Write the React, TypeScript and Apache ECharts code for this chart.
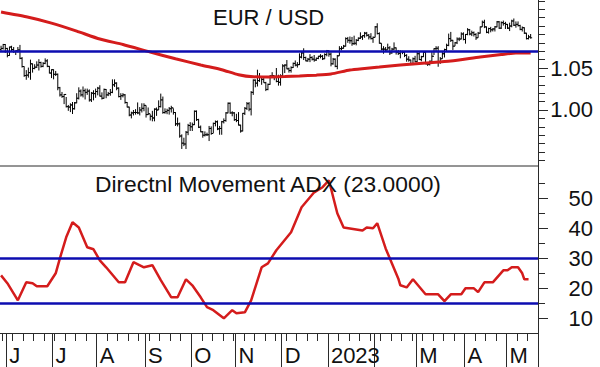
import React, { useEffect, useRef } from "react";
import * as echarts from "echarts";

// ---- categories: trading days (weekdays) starting 2022-05-27 ----
const START_DATE = "2022-05-27";
const SLOT_COUNT = 256;

// month tick labels (Feb 2023 label is hidden in the original)
const monthTickLabels: [string, string][] = [
  ["2022-06", "J"], ["2022-07", "J"], ["2022-08", "A"], ["2022-09", "S"],
  ["2022-10", "O"], ["2022-11", "N"], ["2022-12", "D"], ["2023-01", "2023"],
  ["2023-02", ""], ["2023-03", "M"], ["2023-04", "A"], ["2023-05", "M"],
];

// ---- EUR/USD daily bars ----
const firstOpen = 1.072;
const closes = [
  1.0733,1.0780,1.0733,1.0649,1.0750,1.0720,1.0695,1.0705,1.0715,1.0615,
  1.0518,1.0410,1.0415,1.0445,1.0550,1.0495,1.0510,1.0535,1.0565,1.0520,
  1.0555,1.0585,1.0520,1.0440,1.0480,1.0425,1.0425,1.0265,1.0180,1.0160,
  1.0185,1.0040,1.0035,1.0060,1.0015,1.0085,1.0140,1.0225,1.0180,1.0230,
  1.0210,1.0225,1.0120,1.0200,1.0195,1.0220,1.0260,1.0165,1.0140,1.0245,
  1.0180,1.0195,1.0210,1.0300,1.0320,1.0260,1.0160,1.0170,1.0180,1.0090,
  1.0035,0.9940,0.9965,0.9970,0.9970,0.9965,1.0000,1.0020,1.0055,0.9945,
  0.9955,0.9925,0.9905,1.0010,1.0000,1.0040,1.0120,0.9970,0.9980,0.9995,
  1.0015,1.0025,0.9970,0.9835,0.9835,0.9690,0.9605,0.9595,0.9735,0.9815,
  0.9800,0.9825,0.9985,0.9885,0.9795,0.9740,0.9700,0.9705,0.9705,0.9780,
  0.9720,0.9840,0.9860,0.9775,0.9780,0.9860,0.9875,0.9965,1.0080,0.9965,
  0.9965,0.9885,0.9875,0.9820,0.9750,0.9960,1.0020,1.0075,1.0010,1.0210,
  1.0355,1.0320,1.0350,1.0395,1.0365,1.0325,1.0245,1.0305,1.0405,1.0410,
  1.0400,1.0340,1.0330,1.0405,1.0525,1.0535,1.0490,1.0470,1.0505,1.0555,
  1.0535,1.0540,1.0630,1.0680,1.0625,1.0585,1.0605,1.0625,1.0605,1.0595,
  1.0615,1.0640,1.0640,1.0610,1.0660,1.0705,1.0665,1.0550,1.0605,1.0520,
  1.0645,1.0730,1.0735,1.0760,1.0850,1.0830,1.0825,1.0790,1.0795,1.0830,
  1.0855,1.0870,1.0885,1.0915,1.0890,1.0870,1.0850,1.0865,1.0990,1.0910,
  1.0795,1.0725,1.0725,1.0715,1.0740,1.0680,1.0725,1.0740,1.0690,1.0675,
  1.0695,1.0685,1.0650,1.0605,1.0595,1.0545,1.0610,1.0575,1.0670,1.0600,
  1.0635,1.0685,1.0550,1.0545,1.0580,1.0640,1.0730,1.0735,1.0575,1.0610,
  1.0670,1.0720,1.0770,1.0850,1.0830,1.0760,1.0800,1.0845,1.0845,1.0905,
  1.0840,1.0900,1.0955,1.0905,1.0920,1.0900,1.0860,1.0915,1.0990,1.1045,
  1.0990,1.0925,1.0970,1.0955,1.0965,1.0990,1.1050,1.0975,1.1040,1.1030,
  1.1020,1.0975,1.1000,1.1060,1.1010,1.1020,1.1005,1.0960,1.0980,1.0915,
  1.0850,1.0870,1.0860,
];
const highs = [
  1.0765,1.0787,1.0786,1.0740,1.0755,1.0765,1.0750,1.0710,1.0750,1.0775,
  1.0630,1.0520,1.0475,1.0505,1.0600,1.0555,1.0545,1.0580,1.0605,1.0575,
  1.0570,1.0615,1.0605,1.0525,1.0485,1.0485,1.0465,1.0435,1.0275,1.0215,
  1.0190,1.0155,1.0060,1.0080,1.0095,1.0095,1.0200,1.0270,1.0245,1.0280,
  1.0255,1.0255,1.0245,1.0215,1.0235,1.0255,1.0275,1.0295,1.0210,1.0255,
  1.0250,1.0215,1.0250,1.0365,1.0365,1.0330,1.0270,1.0200,1.0200,1.0190,
  1.0095,1.0040,0.9980,1.0000,1.0010,1.0090,1.0035,1.0080,1.0080,1.0055,
  1.0030,0.9950,0.9990,1.0020,1.0030,1.0115,1.0195,1.0160,1.0020,1.0015,
  1.0035,1.0050,1.0020,0.9975,0.9910,0.9850,0.9710,0.9670,0.9750,0.9835,
  0.9855,0.9850,0.9995,0.9995,0.9895,0.9815,0.9750,0.9745,0.9730,0.9810,
  0.9805,0.9850,0.9875,0.9875,0.9810,0.9870,0.9900,0.9975,1.0090,1.0090,
  0.9985,0.9975,0.9955,0.9975,0.9825,0.9965,1.0035,1.0095,1.0095,1.0225,
  1.0365,1.0365,1.0480,1.0440,1.0400,1.0380,1.0335,1.0315,1.0415,1.0450,
  1.0410,1.0500,1.0420,1.0425,1.0545,1.0545,1.0595,1.0505,1.0520,1.0565,
  1.0590,1.0570,1.0675,1.0695,1.0735,1.0635,1.0620,1.0665,1.0640,1.0655,
  1.0625,1.0645,1.0665,1.0655,1.0675,1.0715,1.0710,1.0685,1.0620,1.0615,
  1.0655,1.0760,1.0760,1.0775,1.0865,1.0870,1.0875,1.0870,1.0885,1.0845,
  1.0865,1.0925,1.0890,1.0930,1.0930,1.0905,1.0915,1.0875,1.1000,1.1033,
  1.0925,1.0795,1.0760,1.0750,1.0790,1.0760,1.0740,1.0805,1.0745,1.0715,
  1.0710,1.0705,1.0695,1.0665,1.0640,1.0600,1.0625,1.0645,1.0690,1.0690,
  1.0645,1.0695,1.0695,1.0565,1.0590,1.0700,1.0735,1.0760,1.0760,1.0630,
  1.0690,1.0730,1.0790,1.0910,1.0930,1.0835,1.0810,1.0865,1.0865,1.0925,
  1.0925,1.0905,1.0975,1.0965,1.0945,1.0935,1.0915,1.0930,1.0995,1.1065,
  1.1075,1.0995,1.0980,1.0990,1.0975,1.1000,1.1060,1.1060,1.1055,1.1065,
  1.1050,1.1025,1.1040,1.1075,1.1090,1.1055,1.1055,1.1015,1.0995,1.0985,
  1.0920,1.0895,1.0905,
];
const lows = [
  1.0705,1.0720,1.0680,1.0627,1.0645,1.0700,1.0680,1.0655,1.0685,1.0605,
  1.0505,1.0395,1.0360,1.0385,1.0360,1.0445,1.0485,1.0500,1.0470,1.0505,
  1.0510,1.0545,1.0510,1.0435,1.0380,1.0365,1.0405,1.0235,1.0160,1.0145,
  1.0070,1.0030,0.9990,0.9975,0.9952,1.0005,1.0080,1.0125,1.0160,1.0150,
  1.0125,1.0180,1.0100,1.0095,1.0115,1.0145,1.0175,1.0160,1.0125,1.0135,
  1.0140,1.0165,1.0170,1.0200,1.0275,1.0235,1.0150,1.0120,1.0150,1.0075,
  1.0030,0.9925,0.9900,0.9935,0.9945,0.9950,0.9935,0.9970,0.9985,0.9910,
  0.9940,0.9875,0.9865,0.9865,0.9930,1.0000,1.0030,0.9955,0.9955,0.9950,
  0.9945,0.9970,0.9945,0.9810,0.9805,0.9670,0.9536,0.9570,0.9535,0.9700,
  0.9750,0.9750,0.9820,0.9870,0.9785,0.9735,0.9670,0.9685,0.9690,0.9630,
  0.9705,0.9725,0.9805,0.9760,0.9705,0.9705,0.9840,0.9860,0.9960,0.9955,
  0.9925,0.9870,0.9855,0.9815,0.9730,0.9745,0.9940,1.0000,0.9985,0.9935,
  1.0180,1.0270,1.0280,1.0335,1.0300,1.0325,1.0225,1.0235,1.0300,1.0385,
  1.0355,1.0330,1.0290,1.0290,1.0390,1.0440,1.0485,1.0445,1.0445,1.0500,
  1.0520,1.0505,1.0535,1.0615,1.0595,1.0580,1.0575,1.0570,1.0590,1.0575,
  1.0585,1.0605,1.0615,1.0595,1.0605,1.0640,1.0635,1.0520,1.0540,1.0510,
  1.0485,1.0645,1.0710,1.0730,1.0755,1.0800,1.0790,1.0765,1.0775,1.0770,
  1.0820,1.0845,1.0835,1.0860,1.0875,1.0840,1.0840,1.0800,1.0865,1.0900,
  1.0790,1.0710,1.0670,1.0700,1.0715,1.0655,1.0670,1.0710,1.0660,1.0655,
  1.0615,1.0665,1.0630,1.0575,1.0575,1.0535,1.0535,1.0570,1.0570,1.0595,
  1.0580,1.0630,1.0545,1.0525,1.0530,1.0570,1.0655,1.0700,1.0515,1.0550,
  1.0610,1.0625,1.0700,1.0760,1.0810,1.0715,1.0760,1.0785,1.0820,1.0840,
  1.0830,1.0790,1.0890,1.0890,1.0880,1.0875,1.0835,1.0860,1.0910,1.0990,
  1.0975,1.0915,1.0910,1.0925,1.0935,1.0935,1.0985,1.0965,1.0965,1.1005,
  1.0965,1.0965,1.0940,1.0985,1.1000,1.0980,1.0995,1.0950,1.0935,1.0905,
  1.0840,1.0840,1.0850,
];

// long moving average (red), [trading-day index, value]
const maPoints: [number, number][] = [
  [0, 1.1167], [12, 1.111], [24, 1.1035], [36, 1.094], [47, 1.0845], [58, 1.078],
  [71, 1.069], [83, 1.061], [95, 1.0536], [105, 1.048], [113, 1.042], [120, 1.0395],
  [127, 1.0393], [135, 1.0398], [142, 1.0405], [150, 1.0415], [157, 1.0429],
  [166, 1.0476], [173, 1.0495], [180, 1.0512], [190, 1.0536], [202, 1.056],
  [214, 1.0583], [228, 1.0631], [238, 1.066], [245, 1.0679], [252, 1.068],
];
const priceLevel = 1.0725;

// ADX (23), [trading-day index, value]
const adxPoints: [number, number][] = [
  [0, 24.3], [3, 21.7], [8, 16], [12, 22], [15, 21.7], [17, 20.7], [22, 20.7],
  [26, 25], [28, 30], [31, 37], [34, 42], [37, 40.3], [41, 33.7], [44, 33],
  [47, 29.3], [50, 27], [56, 22], [59, 22], [63, 28.7], [68, 27], [72, 27.7],
  [76, 22.7], [81, 17], [84, 17], [88, 23], [91, 21], [95, 17], [98, 13.7],
  [101, 12.7], [106, 10], [110, 12.7], [112, 11.7], [116, 12], [119, 16],
  [124, 27], [127, 28.3], [131, 32.7], [138, 38.7], [143, 47], [149, 52],
  [153, 53.7], [156, 56], [160, 45], [163, 40.3], [172, 39.3], [174, 40.3],
  [177, 40], [179, 41.7], [183, 33.3], [186, 28.3], [189, 23.3], [190, 21],
  [193, 20.3], [196, 23], [202, 18], [208, 18], [211, 15.7], [214, 18],
  [219, 18], [221, 20], [225, 20], [227, 18.7], [230, 22], [234, 22],
  [239, 26], [241, 26], [243, 27], [246, 27], [248, 25], [249, 23], [251, 23],
];
const adxLevels = [30, 15];

// axis ticks / labels
const priceMinorTicks = [0.94,0.95,0.96,0.97,0.98,0.99,1.0,1.01,1.02,1.03,1.04,1.05,1.06,1.07,1.08,1.09,1.1,1.11,1.12,1.13];
const priceLabels = [1.0, 1.05];
const adxMinorTicks = [10, 15, 20, 25, 30, 35, 40, 45, 50, 55];
const adxLabels = [10, 20, 30, 40, 50];

const FONT = '"Liberation Sans", Arial, Helvetica, sans-serif';
const AX = "#2a2a2a";
const RED = "#d41c1c";
const BLUE = "#0c0cb0";
const TXT = "#111";

function buildDates(): string[] {
  const out: string[] = [];
  let t = Date.parse(START_DATE + "T00:00:00Z");
  while (out.length < SLOT_COUNT) {
    const d = new Date(t);
    const wd = d.getUTCDay();
    if (wd !== 0 && wd !== 6) out.push(d.toISOString().slice(0, 10));
    t += 86400000;
  }
  return out;
}

export default function App() {
  const ref = useRef<HTMLDivElement>(null);
  useEffect(() => {
    const dates = buildDates();
    const labelMap = new Map(monthTickLabels);
    const isMonthStart = dates.map((d, i) => i > 0 && d.slice(0, 7) !== dates[i - 1].slice(0, 7));
    const isMonday = dates.map((d) => new Date(d + "T00:00:00Z").getUTCDay() === 1);
    const labelAt = dates.map((d, i) => (isMonthStart[i] ? labelMap.get(d.slice(0, 7)) ?? "" : ""));

    const ohlc = closes.map((c, i) => [i, i === 0 ? firstOpen : closes[i - 1], highs[i], lows[i], c]);

    const chart = echarts.init(ref.current!, null, { renderer: "svg" });
    const option: any = {
      animation: false,
      backgroundColor: "#fff",
      grid: [
        { left: 0, right: 62, top: 0, height: 166 },
        { left: 0, right: 62, top: 166, height: 167 },
      ],
      xAxis: [
        { type: "category", gridIndex: 0, data: dates, boundaryGap: true, show: false },
        {
          type: "category", gridIndex: 1, data: dates, boundaryGap: true, position: "bottom",
          axisLine: { show: true, lineStyle: { color: AX, width: 1 } },
          axisTick: { show: true, length: 8, interval: (i: number) => isMonday[i], lineStyle: { color: AX } },
          axisLabel: { show: false }, splitLine: { show: false },
        },
        {
          type: "category", gridIndex: 1, data: dates, boundaryGap: true, position: "bottom",
          axisLine: { show: false },
          axisTick: { show: true, length: 36, interval: (i: number) => isMonthStart[i], lineStyle: { color: AX } },
          axisLabel: {
            show: true, interval: (i: number) => labelAt[i] !== "",
            formatter: (_v: string, i: number) => labelAt[i],
            align: "left", margin: 11, fontSize: 22, fontFamily: FONT, color: TXT, padding: [0, 0, 0, 2],
          },
          splitLine: { show: false },
        },
      ],
      yAxis: [
        {
          type: "value", gridIndex: 0, position: "right", min: 0.9333, max: 1.131, scale: true,
          axisLine: { show: true, lineStyle: { color: AX } },
          axisTick: { show: true, length: 7, customValues: priceMinorTicks, lineStyle: { color: AX } },
          axisLabel: { show: false }, splitLine: { show: false },
        },
        {
          type: "value", gridIndex: 0, position: "right", min: 0.9333, max: 1.131, scale: true,
          axisLine: { show: false },
          axisTick: { show: true, length: 10, customValues: priceLabels, lineStyle: { color: AX } },
          axisLabel: {
            show: true, customValues: priceLabels, formatter: (v: number) => v.toFixed(2),
            align: "right", margin: 55, fontSize: 22, fontFamily: FONT, color: TXT, padding: [5, 0, 0, 0],
          },
          splitLine: { show: false },
        },
        {
          type: "value", gridIndex: 1, position: "right", min: 5.1, max: 60.77,
          axisLine: { show: true, lineStyle: { color: AX } },
          axisTick: { show: true, length: 7, customValues: adxMinorTicks, lineStyle: { color: AX } },
          axisLabel: { show: false }, splitLine: { show: false },
        },
        {
          type: "value", gridIndex: 1, position: "right", min: 5.1, max: 60.77,
          axisLine: { show: false },
          axisTick: { show: true, length: 10, customValues: adxLabels, lineStyle: { color: AX } },
          axisLabel: {
            show: true, customValues: adxLabels, formatter: (v: number) => String(v),
            align: "right", margin: 55, fontSize: 22, fontFamily: FONT, color: TXT, padding: [6, 0, 0, 0],
          },
          splitLine: { show: false },
        },
      ],
      series: [
        {
          type: "custom", xAxisIndex: 0, yAxisIndex: 0, data: ohlc, clip: true,
          encode: { x: 0, y: [1, 2, 3, 4] },
          renderItem: (_p: any, api: any) => {
            const i = api.value(0);
            const o = api.coord([i, api.value(1)]);
            const h = api.coord([i, api.value(2)]);
            const l = api.coord([i, api.value(3)]);
            const c = api.coord([i, api.value(4)]);
            const st = { stroke: "#000", lineWidth: 1 };
            return {
              type: "group",
              children: [
                { type: "line", shape: { x1: h[0], y1: h[1], x2: l[0], y2: l[1] }, style: st },
                { type: "line", shape: { x1: o[0] - 1.5, y1: o[1], x2: o[0], y2: o[1] }, style: st },
                { type: "line", shape: { x1: c[0], y1: c[1], x2: c[0] + 1.5, y2: c[1] }, style: st },
              ],
            };
          },
        },
        {
          type: "line", xAxisIndex: 0, yAxisIndex: 0, data: maPoints, showSymbol: false, smooth: 0.2,
          lineStyle: { color: RED, width: 3 }, z: 3,
          markLine: {
            silent: true, symbol: ["none", "none"], label: { show: false },
            lineStyle: { color: BLUE, width: 2.5, type: "solid" },
            data: [{ yAxis: priceLevel }],
          },
        },
        {
          type: "line", xAxisIndex: 1, yAxisIndex: 2, data: adxPoints, showSymbol: false,
          lineStyle: { color: RED, width: 2.5 }, z: 3,
          markLine: {
            silent: true, symbol: ["none", "none"], label: { show: false },
            lineStyle: { color: BLUE, width: 2.5, type: "solid" },
            data: adxLevels.map((v) => ({ yAxis: v })),
          },
        },
      ],
      graphic: [
        { type: "line", shape: { x1: 0, y1: 166, x2: 538, y2: 166 }, style: { stroke: AX, lineWidth: 1 }, z: 10 },
        {
          type: "text", x: 213, y: 17.5,
          style: { text: "EUR / USD", font: `22px ${FONT}`, fill: TXT, verticalAlign: "middle" }, z: 10,
        },
        {
          type: "text", x: 95, y: 184,
          style: { text: "Directnl Movement ADX (23.0000)", font: `22.8px ${FONT}`, fill: TXT, verticalAlign: "middle" }, z: 10,
        },
      ],
    };
    chart.setOption(option);
    return () => chart.dispose();
  }, []);
  return (
    <div
      ref={ref}
      style={{ position: "fixed", left: 0, top: 0, width: 600, height: 367, background: "#fff" }}
    />
  );
}
